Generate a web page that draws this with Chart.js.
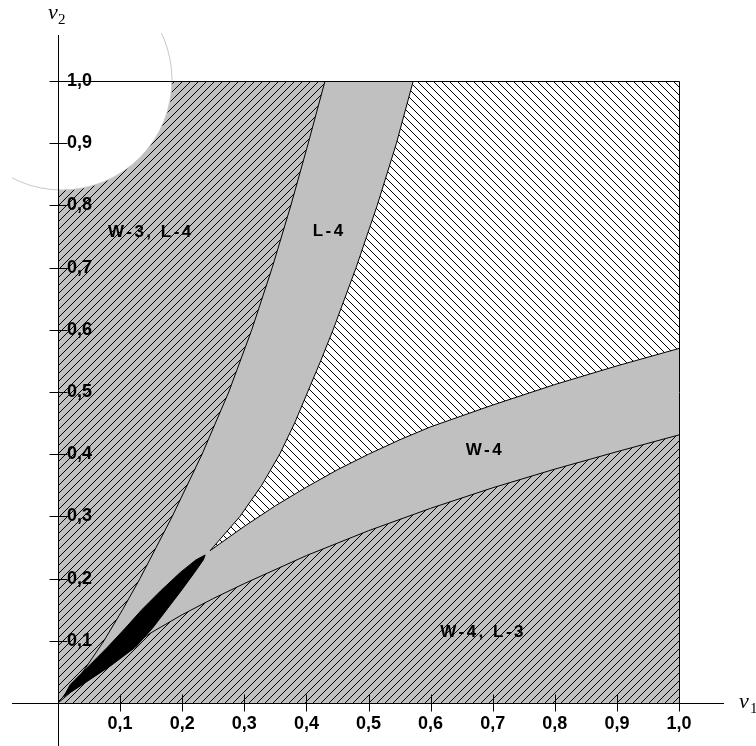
<!DOCTYPE html>
<html>
<head>
<meta charset="utf-8">
<script src="https://cdn.jsdelivr.net/npm/chart.js@4/dist/chart.umd.min.js"></script>
<style>
  body { margin: 0; background: #fff; }
  #wrap { width: 756px; height: 746px; }
</style>
</head>
<body>
<div id="wrap"><canvas id="regions"></canvas></div>
<script>
// axis ticks
const tickSteps = [0.1, 0.2, 0.3, 0.4, 0.5, 0.6, 0.7, 0.8, 0.9, 1.0];
const tickLabels = ['0,1', '0,2', '0,3', '0,4', '0,5', '0,6', '0,7', '0,8', '0,9', '1,0'];

// L-4 band, left edge (read along v2)
const l4LeftV2 = [0, 0.05, 0.1, 0.15, 0.2, 0.25, 0.3, 0.4, 0.5, 0.6, 0.7, 0.8, 0.9, 1.0];
const l4LeftV1 = [0, 0.04, 0.074, 0.104, 0.132, 0.158, 0.184, 0.232, 0.275, 0.312, 0.345, 0.375, 0.403, 0.43];

// L-4 band, right edge
const l4RightV2 = [0.245, 0.3, 0.35, 0.4, 0.45, 0.5, 0.55, 0.6, 0.7, 0.8, 0.9, 1.0];
const l4RightV1 = [0.245, 0.293, 0.328, 0.357, 0.381, 0.402, 0.423, 0.443, 0.48, 0.514, 0.545, 0.572];

// W-4 band, lower edge (read along v1)
const w4LowV1 = [0, 0.05, 0.1, 0.15, 0.2, 0.25, 0.3, 0.4, 0.5, 0.6, 0.7, 0.8, 0.9, 1.0];
const w4LowV2 = [0, 0.042, 0.08, 0.113, 0.142, 0.168, 0.192, 0.237, 0.277, 0.313, 0.346, 0.376, 0.404, 0.431];

// W-4 band, upper edge
const w4HighV1 = [0.245, 0.3, 0.35, 0.4, 0.45, 0.5, 0.55, 0.6, 0.7, 0.8, 0.9, 1.0];
const w4HighV2 = [0.245, 0.284, 0.317, 0.347, 0.375, 0.4, 0.423, 0.444, 0.479, 0.512, 0.542, 0.57];

// black core along the diagonal: upper edge going up, lower edge coming back
const coreUpperV1 = [0.009, 0.020, 0.050, 0.080, 0.108, 0.135, 0.165, 0.197, 0.222, 0.237];
const coreUpperV2 = [0.010, 0.030, 0.060, 0.090, 0.120, 0.150, 0.180, 0.210, 0.230, 0.238];
const coreLowerV1 = [0.234, 0.220, 0.198, 0.175, 0.152, 0.125, 0.085, 0.040, 0.009];
const coreLowerV2 = [0.230, 0.210, 0.180, 0.150, 0.120, 0.090, 0.060, 0.030, 0.010];

// region names
const regionNames = ['W-3, L-4', 'L-4', 'W-4', 'W-4, L-3'];
const regionV1 = [0.148, 0.435, 0.686, 0.683];
const regionV2 = [0.757, 0.759, 0.407, 0.113];

// white lens in the upper left corner (centre in data units)
const lensV1 = 0.0064;
const lensV2 = 1.0016;

const pts = (xs, ys) => xs.map((x, i) => ({ x: x, y: ys[i] }));

const l4Left = pts(l4LeftV1, l4LeftV2);
const l4Right = pts(l4RightV1, l4RightV2);
const w4Low = pts(w4LowV1, w4LowV2);
const w4High = pts(w4HighV1, w4HighV2);
const core = pts(coreUpperV1, coreUpperV2).concat(pts(coreLowerV1, coreLowerV2));

// 8x8 hatch tiles like the old GDI brushes
function hatch(bg, rising) {
    const c = document.createElement('canvas');
    c.width = 8;
    c.height = 8;
    const g = c.getContext('2d');
    g.fillStyle = bg;
    g.fillRect(0, 0, 8, 8);
    g.fillStyle = '#000';
    for (let i = 0; i < 8; i++) {
        g.fillRect(i, rising ? 7 - i : i, 1, 1);
    }
    return g.createPattern(c, 'repeat');
}
const grayHatch = hatch('#c0c0c0', true);
const whiteHatch = hatch('#ffffff', false);

const square = [{ x: 0, y: 0 }, { x: 1, y: 0 }, { x: 1, y: 1 }, { x: 0, y: 1 }];
// solid grey wedge between the outer curves
const wedge = l4Left.concat([{ x: 1, y: 1 }], w4Low.slice().reverse());
// white hatched area between the inner curves
const between = l4Right.concat([{ x: 1, y: 1 }], w4High.slice().reverse());

function area(points, color, order) {
    return {
        data: points,
        fill: 'shape',
        backgroundColor: color,
        borderColor: 'rgba(0,0,0,0)',
        borderWidth: 0,
        pointRadius: 0,
        order: order
    };
}
function edge(points) {
    return {
        data: points,
        fill: false,
        borderColor: '#000',
        borderWidth: 1,
        pointRadius: 0,
        order: 5
    };
}

const tickFont = { family: 'Liberation Sans', weight: 'bold', size: 18 };

// white round patch over the fills, under the axes
const lens = {
    id: 'lens',
    afterDatasetsDraw(chart) {
        const { ctx, scales: { x, y } } = chart;
        ctx.save();
        ctx.beginPath();
        ctx.rect(12, 33, chart.width, chart.height);
        ctx.clip();
        ctx.beginPath();
        ctx.arc(x.getPixelForValue(lensV1), y.getPixelForValue(lensV2), 110, 0, Math.PI * 2);
        ctx.fillStyle = '#fff';
        ctx.fill();
        ctx.strokeStyle = '#c8c8c8';
        ctx.lineWidth = 1;
        ctx.stroke();
        ctx.restore();
    }
};

const frame = {
    id: 'frame',
    afterDraw(chart) {
        const { ctx, scales: { x, y } } = chart;
        const x0 = Math.round(x.getPixelForValue(0)) + 0.5;
        const x1 = Math.round(x.getPixelForValue(1)) + 0.5;
        const y0 = Math.round(y.getPixelForValue(0)) + 0.5;
        const y1 = Math.round(y.getPixelForValue(1)) + 0.5;
        ctx.save();

        // region names
        ctx.fillStyle = '#000';
        ctx.font = 'bold 17px "Liberation Sans"';
        ctx.textAlign = 'center';
        ctx.textBaseline = 'middle';
        ctx.letterSpacing = '2.5px';
        regionNames.forEach((name, i) => {
            ctx.fillText(name, x.getPixelForValue(regionV1[i]) + 1, y.getPixelForValue(regionV2[i]));
        });
        ctx.letterSpacing = '0px';

        // axes, box and crossing tick marks
        ctx.strokeStyle = '#000';
        ctx.lineWidth = 1;
        ctx.beginPath();
        ctx.moveTo(x0, 35);
        ctx.lineTo(x0, chart.height);
        ctx.moveTo(12, y0);
        ctx.lineTo(724, y0);
        ctx.moveTo(x0, y1);
        ctx.lineTo(x1, y1);
        ctx.lineTo(x1, y0);
        tickSteps.forEach(v => {
            const px = Math.round(x.getPixelForValue(v)) + 0.5;
            const py = Math.round(y.getPixelForValue(v)) + 0.5;
            ctx.moveTo(px, y0 - 9);
            ctx.lineTo(px, y0 + 8);
            ctx.moveTo(x0 - 9, py);
            ctx.lineTo(x0 + 9, py);
        });
        ctx.stroke();

        // axis names v1 / v2
        ctx.textAlign = 'left';
        ctx.textBaseline = 'alphabetic';
        ctx.font = 'italic 22px "Liberation Serif"';
        ctx.fillText('v', 48, 19);
        ctx.fillText('v', 739, 708);
        ctx.font = '15px "Liberation Serif"';
        ctx.fillText('2', 58, 24);
        ctx.fillText('1', 750, 713);
        ctx.restore();
    }
};

new Chart(document.getElementById('regions'), {
    type: 'line',
    data: {
        datasets: [
            edge(l4Left),
            edge(l4Right),
            edge(w4Low),
            edge(w4High),
            Object.assign(area(core, '#000', 6), { borderColor: '#000', borderWidth: 1 }),
            area(between, whiteHatch, 7),
            area(wedge, '#c0c0c0', 8),
            area(square, grayHatch, 9)
        ]
    },
    options: {
        responsive: true,
        maintainAspectRatio: false,
        animation: false,
        events: [],
        layout: { padding: { top: 81, right: 77, left: 0, bottom: 0 } },
        elements: { line: { tension: 0 } },
        plugins: { legend: { display: false }, tooltip: { enabled: false } },
        scales: {
            x: {
                type: 'linear',
                min: 0,
                max: 1,
                grid: { display: false, drawTicks: false },
                border: { display: false },
                afterBuildTicks: s => { s.ticks = tickSteps.map(v => ({ value: v })); },
                afterFit: s => { s.height = 43; },
                ticks: {
                    z: 1,
                    padding: 10,
                    maxRotation: 0,
                    autoSkip: false,
                    color: '#000',
                    font: tickFont,
                    callback: (v, i) => tickLabels[i]
                }
            },
            y: {
                type: 'linear',
                position: 'left',
                min: 0,
                max: 1,
                grid: { display: false, drawTicks: false },
                border: { display: false },
                afterBuildTicks: s => { s.ticks = tickSteps.map(v => ({ value: v })); },
                afterFit: s => { s.width = 58; },
                ticks: {
                    z: 1,
                    mirror: true,
                    padding: 9,
                    autoSkip: false,
                    color: '#000',
                    font: tickFont,
                    callback: (v, i) => tickLabels[i]
                }
            }
        }
    },
    plugins: [lens, frame]
});
</script>
</body>
</html>
